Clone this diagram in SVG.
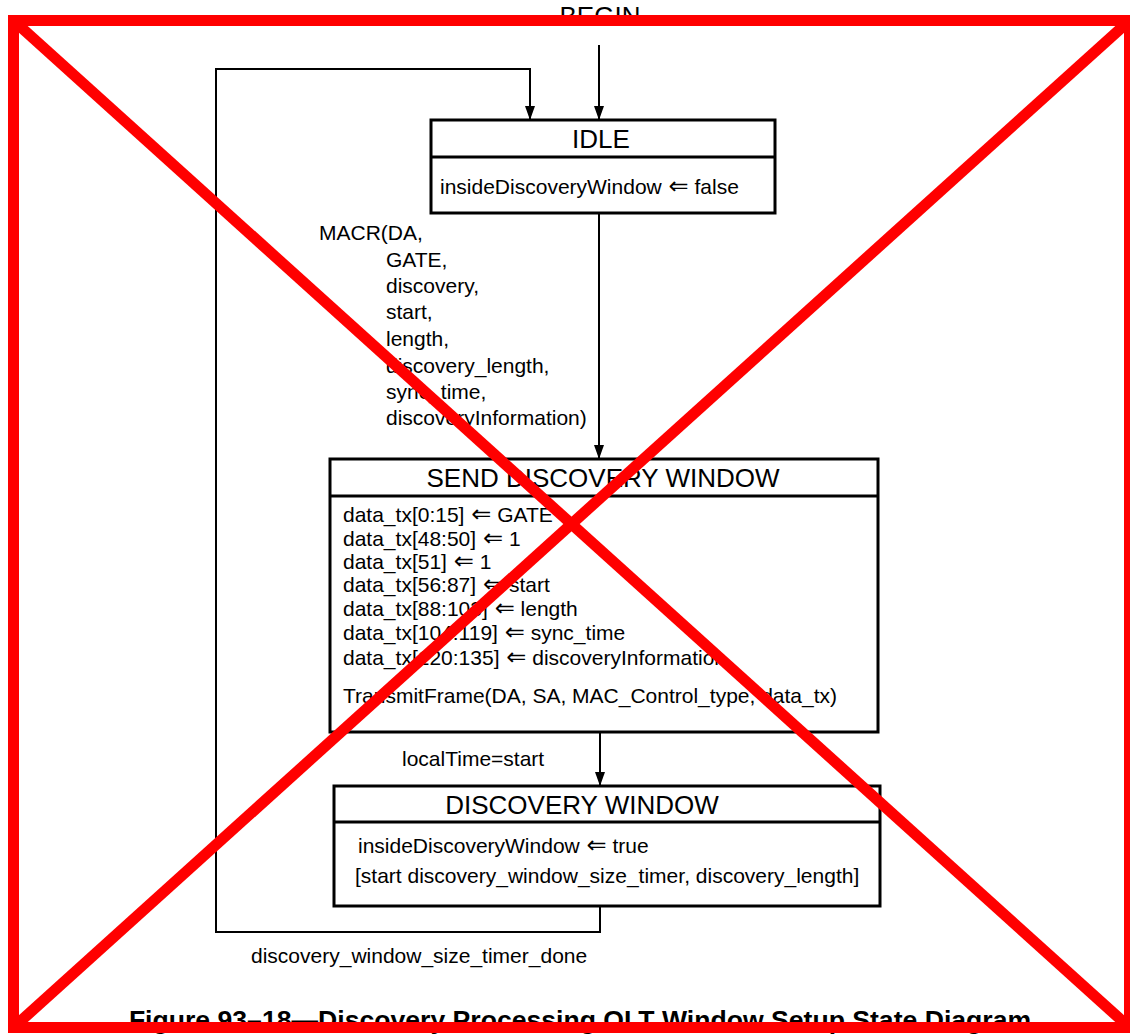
<svg xmlns="http://www.w3.org/2000/svg" width="1130" height="1036" viewBox="0 0 1130 1036">
  <style>
    .box { fill: #ffffff; stroke: #000000; stroke-width: 3; }
    .div { stroke: #000000; stroke-width: 3; }
    .edge { fill: none; stroke: #000000; stroke-width: 2; }
    .title { font-family: "Liberation Sans", Arial, sans-serif; font-size: 26px; fill: #000000; text-anchor: middle; }
    .body { font-family: "Liberation Sans", "DejaVu Sans", Arial, sans-serif; font-size: 21px; fill: #000000; }
    .arr { font-family: "DejaVu Sans", sans-serif; font-size: 24px; }
    .caption { font-family: "Liberation Sans", Arial, sans-serif; font-size: 26.6px; font-weight: bold; fill: #000000; text-anchor: middle; }
    .cross { fill: none; stroke: #ff0000; stroke-width: 11; }
  </style>
  <defs>
    <marker id="arrow" viewBox="0 0 14 10" refX="14" refY="5" markerWidth="14" markerHeight="10" markerUnits="userSpaceOnUse" orient="auto">
      <path d="M0,0 L14,5 L0,10 z" fill="#000000"/>
    </marker>
  </defs>

  <rect width="1130" height="1036" fill="#ffffff"/>

  <!-- entry label -->
  <text class="title" x="600" y="25">BEGIN</text>

  <!-- transitions -->
  <g id="connectors">
    <path class="edge" d="M599,45 V120" marker-end="url(#arrow)"/>
    <path class="edge" d="M600,906 V932 H216 V69 H530 V120" marker-end="url(#arrow)"/>
    <path class="edge" d="M599,213 V459" marker-end="url(#arrow)"/>
    <path class="edge" d="M600,732 V786" marker-end="url(#arrow)"/>
    <text class="body" x="319" y="240">MACR(DA,</text>
    <text class="body" x="386" y="267">GATE,</text>
    <text class="body" x="386" y="293">discovery,</text>
    <text class="body" x="386" y="319">start,</text>
    <text class="body" x="386" y="346">length,</text>
    <text class="body" x="386" y="373">discovery_length,</text>
    <text class="body" x="386" y="399">sync_time,</text>
    <text class="body" x="386" y="425">discoveryInformation)</text>
    <text class="body" x="402" y="766">localTime=start</text>
    <text class="body" x="251" y="963">discovery_window_size_timer_done</text>
  </g>

  <!-- IDLE state -->
  <g id="idle">
    <rect class="box" x="431" y="120" width="344" height="93"/>
    <line class="div" x1="431" y1="157" x2="775" y2="157"/>
    <text class="title" x="601" y="148">IDLE</text>
    <text class="body" x="440" y="194">insideDiscoveryWindow <tspan class="arr" dx="1">⇐</tspan> false</text>
  </g>

  <!-- SEND DISCOVERY WINDOW state -->
  <g id="send-discovery-window">
    <rect class="box" x="330" y="459" width="548" height="273"/>
    <line class="div" x1="330" y1="496" x2="878" y2="496"/>
    <text class="title" x="603" y="487">SEND DISCOVERY WINDOW</text>
    <text class="body" x="343" y="522">data_tx[0:15] <tspan class="arr" dx="1">⇐</tspan> GATE</text>
    <text class="body" x="343" y="546">data_tx[48:50] <tspan class="arr" dx="1">⇐</tspan> 1</text>
    <text class="body" x="343" y="569">data_tx[51] <tspan class="arr" dx="1">⇐</tspan> 1</text>
    <text class="body" x="343" y="592">data_tx[56:87] <tspan class="arr" dx="1">⇐</tspan> start</text>
    <text class="body" x="343" y="616">data_tx[88:103] <tspan class="arr" dx="1">⇐</tspan> length</text>
    <text class="body" x="343" y="640">data_tx[104:119] <tspan class="arr" dx="1">⇐</tspan> sync_time</text>
    <text class="body" x="343" y="665">data_tx[120:135] <tspan class="arr" dx="1">⇐</tspan> discoveryInformation</text>
    <text class="body" x="343" y="703">TransmitFrame(DA, SA, MAC_Control_type, data_tx)</text>
  </g>

  <!-- DISCOVERY WINDOW state -->
  <g id="discovery-window">
    <rect class="box" x="334" y="786" width="546" height="120"/>
    <line class="div" x1="334" y1="822" x2="880" y2="822"/>
    <text class="title" x="582" y="814">DISCOVERY WINDOW</text>
    <text class="body" x="358" y="853">insideDiscoveryWindow <tspan class="arr" dx="1">⇐</tspan> true</text>
    <text class="body" x="355" y="883">[start discovery_window_size_timer, discovery_length]</text>
  </g>

  <!-- caption -->
  <text class="caption" x="580" y="1029">Figure 93–18—Discovery Processing OLT Window Setup State Diagram</text>

  <!-- red frame with cross over the whole figure -->
  <g id="strike">
    <rect class="cross" x="13.5" y="20.5" width="1116" height="1007"/>
    <line class="cross" x1="13.5" y1="20.5" x2="1129.5" y2="1027.5"/>
    <line class="cross" x1="1129.5" y1="20.5" x2="13.5" y2="1027.5"/>
  </g>
</svg>
